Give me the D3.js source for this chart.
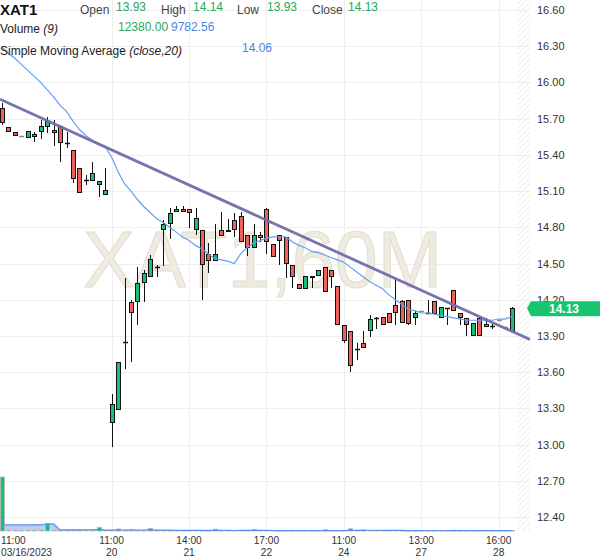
<!DOCTYPE html>
<html><head><meta charset="utf-8">
<script src="https://cdn.jsdelivr.net/npm/d3@7"></script>
<style>body{margin:0;background:#fff;} svg{display:block;font-family:"Liberation Sans",Arial,sans-serif;}</style>
</head><body><svg id="c" width="600" height="558"></svg>
<script>
// ---------- DATA ----------
const symbol = "XAT1";
const watermark = "XAT1,60M";
const opens = [15.79,15.63,15.59,15.56,15.54,15.57,15.59,15.63,15.61,15.64,
  15.50,15.44,15.29,15.19,15.18,15.15,15.07,13.18,13.29,13.85,
  14.18,14.18,14.34,14.39,14.47,14.78,14.83,14.93,14.95,14.95,
  14.78,14.78,14.58,14.52,14.78,14.78,14.86,14.89,14.74,14.63,
  14.74,14.95,14.66,14.74,14.72,14.49,14.33,14.29,14.40,14.40,
  14.47,14.45,14.31,13.99,13.94,13.79,13.84,13.94,14.05,14.06,
  14.09,14.16,14.19,14.20,14.05,14.11,14.09,14.19,14.05,14.13,
  14.28,14.09,14.05,13.90,14.05,13.97,13.98,14.03,13.97,13.93];
const highs = [15.83,15.63,15.59,15.56,15.60,15.59,15.69,15.71,15.69,15.64,
  15.59,15.44,15.29,15.23,15.34,15.18,15.29,13.42,13.68,14.38,
  14.20,14.47,14.45,14.57,14.49,14.86,14.96,14.98,14.98,14.95,
  14.96,14.78,14.67,14.83,14.93,14.87,14.92,14.93,14.74,14.83,
  14.76,14.96,14.66,14.74,14.72,14.49,14.33,14.40,14.40,14.45,
  14.47,14.45,14.31,13.99,13.94,13.84,13.94,14.07,14.06,14.06,
  14.09,14.38,14.20,14.20,14.11,14.11,14.20,14.19,14.14,14.13,
  14.28,14.09,14.05,14.01,14.05,14.05,14.00,14.03,13.97,14.14];
const lows = [15.65,15.59,15.56,15.56,15.54,15.51,15.53,15.58,15.47,15.34,
  15.46,15.17,15.08,15.15,15.18,15.05,15.07,12.98,13.29,13.63,
  13.68,13.99,14.18,14.39,14.39,14.48,14.70,14.93,14.93,14.79,
  14.74,14.20,14.42,14.52,14.73,14.76,14.72,14.68,14.56,14.63,
  14.68,14.58,14.55,14.49,14.38,14.30,14.29,14.29,14.30,14.40,
  14.26,14.30,13.99,13.84,13.60,13.70,13.80,13.89,13.96,13.99,
  14.01,13.99,14.01,13.99,13.99,14.11,14.09,14.08,14.05,13.99,
  14.11,13.99,13.90,13.90,13.90,13.97,13.96,14.03,13.97,13.93];
const closes = [15.66,15.59,15.56,15.56,15.60,15.55,15.64,15.68,15.58,15.50,
  15.50,15.20,15.08,15.19,15.25,15.18,15.11,13.34,13.68,13.85,
  14.09,14.34,14.42,14.54,14.47,14.83,14.92,14.95,14.93,14.92,
  14.88,14.49,14.52,14.58,14.73,14.76,14.78,14.68,14.63,14.74,
  14.71,14.68,14.55,14.69,14.50,14.39,14.29,14.40,14.38,14.45,
  14.26,14.39,13.99,13.86,13.65,13.79,13.80,14.04,14.05,13.99,
  14.01,14.09,14.01,14.00,14.09,14.11,14.09,14.08,14.14,14.13,
  14.11,14.05,13.99,14.01,13.90,14.00,13.98,14.03,13.97,14.13];
const volumes = [1500000,8000,6000,3000,9000,7000,12000,210000,14000,9000,
  16000,8000,20000,15000,7000,100000,12000,18000,55000,15000,
  20000,12000,14000,70000,10000,6000,14000,12000,5000,4000,
  9000,11000,25000,50000,10000,8000,7000,9000,12000,45000,
  8000,10000,12000,6000,7000,9000,6000,5000,8000,6000,
  35000,7000,9000,14000,60000,12000,30000,9000,11000,6000,
  7000,8000,12000,9000,7000,6000,2000,4000,6000,8000,
  22000,17000,8000,7000,9000,18000,7000,5000,4663.04,12380];
const sma20 = [16.29,16.24,16.20,16.15,16.10,16.05,16.00,15.94,15.88,15.81,
  15.76,15.68,15.61,15.56,15.52,15.49,15.47,15.38,15.26,15.16,
  15.10,15.03,14.97,14.92,14.87,14.84,14.80,14.76,14.72,14.69,
  14.65,14.62,14.58,14.54,14.53,14.52,14.50,14.58,14.63,14.67,
  14.69,14.71,14.72,14.72,14.72,14.68,14.65,14.63,14.60,14.59,
  14.57,14.55,14.53,14.51,14.47,14.43,14.39,14.35,14.32,14.29,
  14.24,14.20,14.16,14.12,14.11,14.09,14.09,14.08,14.07,14.06,
  14.05,14.04,14.03,14.03,14.03,14.03,14.03,14.04,14.04,14.06];
const priceTicks = [12.40,12.70,13.00,13.30,13.60,13.90,14.20,14.50,14.80,15.10,15.40,15.70,16.00,16.30,16.60];
const timeTickIdx = [0,17,29,41,53,65,77];
const timeTickTime = ["11:00","11:00","14:00","17:00","11:00","13:00","16:00"];
const timeTickDate = ["03/16/2023","20","21","22","24","27","28"];
const trendIdx = [-0.31, 81.86];
const trendPrice = [15.86, 13.87];
const volPeriod = 9;
const lastVolText = "12380.00", volMaText = "9782.56", smaText = "14.06";

// ---------- SCALES ----------
const svg = d3.select("#c");
const x = d3.scaleLinear().domain([0, 79]).range([2, 511.55]);
const y = d3.scaleLinear().domain([12.40, 16.60]).range([517, 10]);
const yv = d3.scaleLinear().domain([0, d3.max(volumes)]).range([531, 477]);
const plotRight = 530, hatchLeft = 517, baseY = 531;
const GREEN = "#16c176", RED = "#f0605a";
const crisp = v => Math.round(v) + 0.5;

// ---------- BACKGROUND ----------
const defs = svg.append("defs");
const pat = defs.append("pattern").attr("id","hatch").attr("width",4).attr("height",4)
  .attr("patternUnits","userSpaceOnUse").attr("patternTransform","rotate(45)");
pat.append("line").attr("x1",0).attr("y1",0).attr("x2",0).attr("y2",4).attr("stroke","#e2e2e2").attr("stroke-width",1.2);
svg.append("rect").attr("x",hatchLeft).attr("y",0).attr("width",plotRight-hatchLeft).attr("height",baseY).attr("fill","url(#hatch)");

// grid
svg.append("g").selectAll("line").data(priceTicks).join("line")
  .attr("x1",0).attr("x2",plotRight).attr("y1",d=>crisp(y(d))).attr("y2",d=>crisp(y(d)))
  .attr("stroke","#efefef").attr("stroke-width",1);
svg.append("g").selectAll("line").data(timeTickIdx.slice(1)).join("line")
  .attr("x1",d=>crisp(x(d))).attr("x2",d=>crisp(x(d))).attr("y1",0).attr("y2",baseY)
  .attr("stroke","#efefef").attr("stroke-width",1);

// watermark
svg.append("text").attr("x",262.5).attr("y",287).attr("text-anchor","middle")
  .attr("font-size",80).attr("textLength",359).attr("lengthAdjust","spacingAndGlyphs")
  .attr("fill","#efebe1").attr("stroke","#e3dece").attr("stroke-width",1).text(watermark);

// ---------- VOLUME ----------
const volMA = volumes.map((v,i)=>d3.sum(volumes.slice(Math.max(0,i-volPeriod+1), i+1))/volPeriod);
svg.append("path").datum(volMA)
  .attr("d", d3.area().x((d,i)=>x(i)).y0(baseY).y1(d=>yv(d)))
  .attr("fill","#b2c8f2").attr("opacity",0.9);
svg.append("g").selectAll("rect").data(volumes).join("rect")
  .attr("x",(d,i)=>Math.round(x(i))-1.5).attr("width",4)
  .attr("y",d=>Math.min(yv(d), baseY-0.6)).attr("height",d=>Math.max(0.6, baseY-yv(d)))
  .attr("fill",(d,i)=> (i===0 || d>=volumes[i-1]) ? GREEN : RED)
  .attr("stroke","#b4b4b4").attr("stroke-width",0.8);
svg.append("path").datum(volMA)
  .attr("d", d3.line().x((d,i)=>x(i)).y(d=>yv(d)))
  .attr("fill","none").attr("stroke","#5a8de6").attr("stroke-width",1.2);

// ---------- CANDLES ----------
const idx = d3.range(opens.length);
const cg = svg.append("g");
idx.forEach(i=>{
  const cx = Math.round(x(i));
  const o=opens[i], c=closes[i], h=highs[i], l=lows[i];
  if (h > l) {
    cg.append("line").attr("x1",cx+0.5).attr("x2",cx+0.5).attr("y1",Math.round(y(h))).attr("y2",Math.round(y(l)))
      .attr("stroke","#111").attr("stroke-width",1);
  }
  if (o === c) {
    cg.append("line").attr("x1",cx-2).attr("x2",cx+3).attr("y1",crisp(y(o))).attr("y2",crisp(y(o)))
      .attr("stroke", h>l ? "#111" : "#8c8c8c").attr("stroke-width",1.5);
  } else {
    const top = Math.round(y(Math.max(o,c))), bot = Math.round(y(Math.min(o,c)));
    cg.append("rect").attr("x",cx-1.5).attr("width",4).attr("y",top+0.5).attr("height",Math.max(1,bot-top-1))
      .attr("fill", c>o ? GREEN : RED).attr("stroke","#111").attr("stroke-width",1);
  }
});

// ---------- SMA ----------
svg.append("path").datum(sma20)
  .attr("d", d3.line().x((d,i)=>x(i)).y(d=>y(d)))
  .attr("fill","none").attr("stroke","#62a0f5").attr("stroke-width",1.2);

// ---------- TREND LINE ----------
svg.append("line").attr("x1",x(trendIdx[0])).attr("y1",y(trendPrice[0]))
  .attr("x2",x(trendIdx[1])).attr("y2",y(trendPrice[1]))
  .attr("stroke","#706bab").attr("stroke-width",2.8).attr("stroke-opacity",0.95);

// ---------- AXES ----------
const yAxis = d3.axisRight(y).tickValues(priceTicks).tickFormat(d3.format(".2f")).tickSize(0).tickPadding(0);
const ya = svg.append("g").attr("transform","translate(537,0)").call(yAxis);
ya.select(".domain").remove();
ya.selectAll("text").attr("font-size",11).attr("fill","#333").attr("font-family","Liberation Sans, Arial, sans-serif");

const tg = svg.append("g");
timeTickIdx.forEach((ti,k)=>{
  const px = k===0 ? 1 : x(ti);
  const anchor = k===0 ? "start" : "middle";
  tg.append("text").attr("x",px).attr("y",544).attr("text-anchor",anchor).attr("font-size",10.2).attr("fill","#333").text(timeTickTime[k]);
  tg.append("text").attr("x",px).attr("y",555.5).attr("text-anchor",anchor).attr("font-size",10.2).attr("fill","#333").text(timeTickDate[k]);
});

// last price marker
const lastY = y(closes[closes.length-1]);
svg.append("path").attr("d",`M527,${lastY} L531,${lastY-7} L600,${lastY-7} L600,${lastY+8} L531,${lastY+8} Z`)
  .attr("fill","#19c46f");
svg.append("text").attr("x",564).attr("y",lastY+4.5).attr("text-anchor","middle").attr("font-size",12)
  .attr("font-weight","bold").attr("fill","#fff").text(d3.format(".2f")(closes[closes.length-1]));

// ---------- LEGEND ----------
const lg = svg.append("g").attr("font-size",12);
lg.append("text").attr("x",0).attr("y",15).attr("font-size",15).attr("font-weight","bold").attr("fill","#111").text(symbol);
const ohlc = [["Open",80,116,opens[79]],["High",161,193,highs[79]],["Low",237,267,lows[79]],["Close",312,348,closes[79]]];
ohlc.forEach(([lab,lx,vx,val])=>{
  lg.append("text").attr("x",lx).attr("y",13.5).attr("fill","#444").text(lab);
  lg.append("text").attr("x",vx).attr("y",10.5).attr("fill","#1ea862").text(d3.format(".2f")(val));
});
const t2 = lg.append("text").attr("x",0).attr("y",33).attr("fill","#222");
t2.append("tspan").text("Volume ");
t2.append("tspan").attr("font-style","italic").text("(9)");
lg.append("text").attr("x",118).attr("y",31).attr("fill","#1ea862").text(lastVolText);
lg.append("text").attr("x",171).attr("y",31).attr("fill","#4a86e8").text(volMaText);
const t3 = lg.append("text").attr("x",0).attr("y",55).attr("fill","#222");
t3.append("tspan").text("Simple Moving Average ");
t3.append("tspan").attr("font-style","italic").text("(close,20)");
lg.append("text").attr("x",242).attr("y",52).attr("fill","#4a86e8").text(smaText);
</script></body></html>
